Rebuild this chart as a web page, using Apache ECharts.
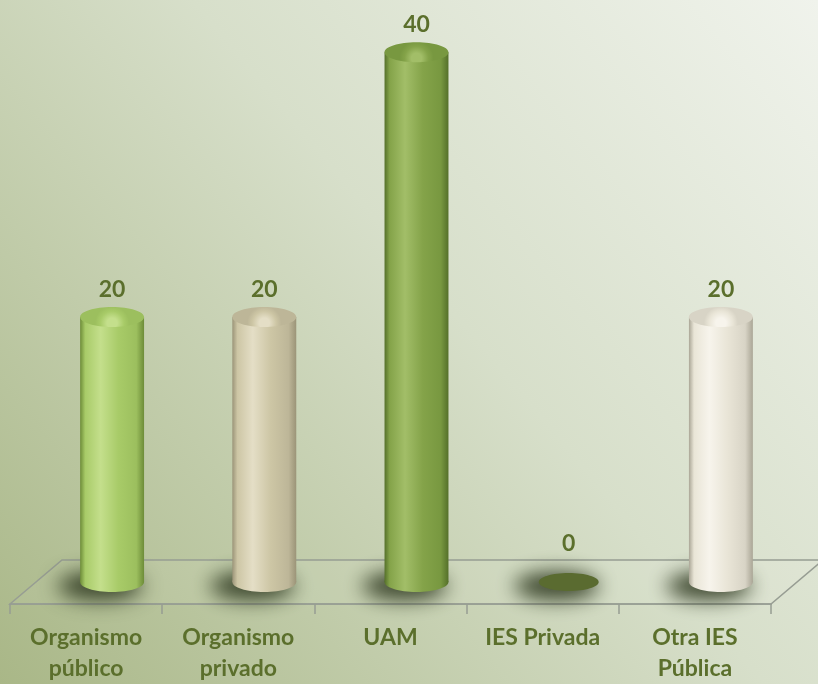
<!DOCTYPE html>
<html>
<head>
<meta charset="utf-8">
<script src="https://cdn.jsdelivr.net/npm/echarts@6/dist/echarts.min.js"></script>
<style>
  html, body { margin: 0; padding: 0; }
  #chart { width: 818px; height: 684px; }
</style>
</head>
<body>
<div id="chart"></div>
<script>
const categories = ["Organismo\npúblico", "Organismo\nprivado", "UAM", "IES Privada", "Otra IES\nPública"];
const values = [20, 20, 40, 0, 20];
// per-bar colours: [dark edge, base, highlight, top rim]
const barColors = [
  ["#6d8c38", "#a8cb68", "#c4df8c", "#9cbf5e"],
  ["#9b9478", "#cdc6a5", "#e4dec6", "#bdb698"],
  ["#55702a", "#84a349", "#a2be68", "#789840"],
  ["#4f602a", "#5a6b30", "#6a7c3a", "#5a6b30"],
  ["#aaa696", "#e9e5d7", "#f7f4ec", "#d8d4c6"]
];

const TEXT = "#5b6f2c";
const FONT = "Lato, 'Liberation Sans Narrow', sans-serif";
const DX = 26, DY = -22;   // bars sit halfway back on the floor
const OFF = 3000;          // shadow-only trick: shape drawn off canvas, shadow shifted back

const chart = echarts.init(document.getElementById("chart"));

function bodyFill(c) {
  return {
    type: "linear", x: 0, y: 0, x2: 1, y2: 0,
    colorStops: [
      { offset: 0, color: c[0] },
      { offset: 0.08, color: c[1] },
      { offset: 0.32, color: c[2] },
      { offset: 0.6, color: c[1] },
      { offset: 0.88, color: c[3] },
      { offset: 1, color: c[0] }
    ]
  };
}

function topFill(c) {
  return {
    type: "radial", x: 0.5, y: 0.8, r: 0.85,
    colorStops: [
      { offset: 0, color: c[2] },
      { offset: 0.3, color: c[2] },
      { offset: 0.7, color: c[1] },
      { offset: 1, color: c[3] }
    ]
  };
}

function renderCylinder(params, api) {
  const i = api.value(0);
  const v = api.value(1);
  const c = barColors[i];
  const base = api.coord([i, 0]);
  const top = api.coord([i, v]);
  const w = api.size([1, 0])[0] * 0.42;
  const cx = base[0] + DX;
  const by = base[1] + DY;
  const ty = top[1] + DY;
  const rx = w / 2, ry = 10;
  const children = [];

  children.push({
    type: "ellipse",
    silent: true,
    shape: { cx: cx - 12 - OFF, cy: by + 4, rx: rx + 10, ry: ry + 4 },
    style: {
      fill: "#000", shadowBlur: 20, shadowColor: "rgba(50,60,35,0.95)",
      shadowOffsetX: OFF, shadowOffsetY: 0
    }
  });

  if (v > 0) {
    children.push({
      type: "ellipse",
      shape: { cx: cx, cy: by, rx: rx, ry: ry },
      style: { fill: bodyFill(c) }
    });
    children.push({
      type: "rect",
      shape: { x: cx - rx, y: ty, width: w, height: by - ty },
      style: { fill: bodyFill(c) }
    });
    children.push({
      type: "ellipse",
      shape: { cx: cx, cy: ty, rx: rx, ry: ry },
      style: { fill: topFill(c) }
    });
    children.push({
      type: "text",
      style: {
        x: cx, y: ty - 28, text: String(v), align: "center", verticalAlign: "middle",
        fill: TEXT, font: "bold 23px " + FONT
      }
    });
  } else {
    children.push({
      type: "ellipse",
      shape: { cx: cx, cy: by, rx: rx - 2, ry: 9 },
      style: { fill: c[1] }
    });
    children.push({
      type: "text",
      style: {
        x: cx, y: by - 38, text: String(v), align: "center", verticalAlign: "middle",
        fill: TEXT, font: "bold 23px " + FONT
      }
    });
  }
  return { type: "group", children: children };
}

const option = {
  backgroundColor: {
    type: "linear", x: 1, y: 0, x2: 0, y2: 1,
    colorStops: [
      { offset: 0, color: "#f0f3ec" },
      { offset: 0.45, color: "#d7dfca" },
      { offset: 1, color: "#a9b787" }
    ]
  },
  animation: false,
  grid: { left: 10, right: 47, top: 8, bottom: 78 },
  xAxis: {
    type: "category",
    data: categories,
    axisLine: { lineStyle: { color: "#979d93", width: 1.5 } },
    axisTick: { show: true, length: 10, lineStyle: { color: "#979d93", width: 1.5 } },
    axisLabel: {
      color: TEXT, fontFamily: FONT, fontWeight: "bold", fontSize: 23,
      lineHeight: 31, margin: 18, interval: 0
    }
  },
  yAxis: { type: "value", min: 0, max: 45, show: false },
  series: [{
    type: "custom",
    renderItem: renderCylinder,
    data: values.map((v, i) => [i, v]),
    z: 3
  }]
};

chart.setOption(option);

// floor plane drawn from the axis scale
const x0 = chart.convertToPixel({ xAxisIndex: 0 }, 0);
const x4 = chart.convertToPixel({ xAxisIndex: 0 }, categories.length - 1);
const band = (x4 - x0) / (categories.length - 1);
const fl = x0 - band / 2, fr = x4 + band / 2;
const fy = chart.convertToPixel({ yAxisIndex: 0 }, 0);
chart.setOption({
  graphic: [{
    type: "polygon",
    z: 1,
    shape: { points: [[fl, fy], [fl + 2 * DX, fy + 2 * DY], [fr + 2 * DX, fy + 2 * DY], [fr, fy]] },
    style: { fill: "rgba(255,255,255,0.06)", stroke: "#979d93", lineWidth: 1.5 }
  }]
});
</script>
</body>
</html>
